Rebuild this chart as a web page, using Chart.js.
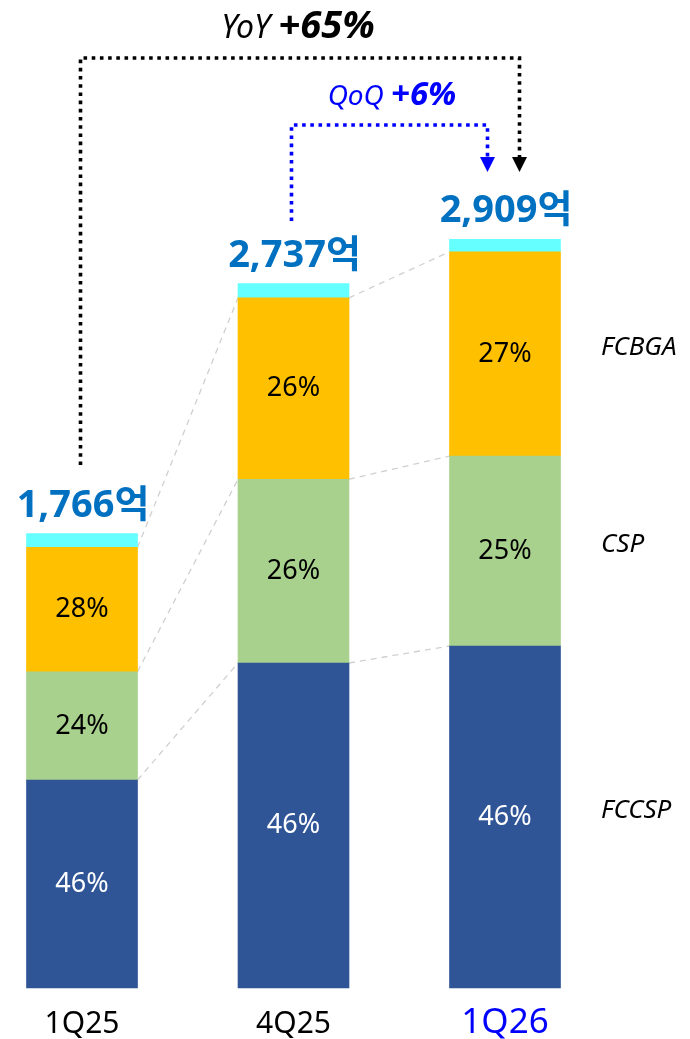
<!DOCTYPE html>
<html>
<head>
<meta charset="utf-8">
<script src="https://cdn.jsdelivr.net/npm/chart.js@4.4.1/dist/chart.umd.min.js"></script>
<style>
  html, body { margin: 0; padding: 0; background: #ffffff; }
  canvas { display: block; }
</style>
</head>
<body>
<canvas id="c" width="690" height="1039"></canvas>
<script>
// ---- data (unit: 억원) ----
const categories = ['1Q25', '4Q25', '1Q26'];
const fccsp = [808, 1263, 1329];
const csp = [421, 714, 738];
const fcbga = [483, 705, 794];
const other = [54, 55, 48];
const totals = ['1,766억', '2,737억', '2,909억'];
const pctFCCSP = ['46%', '46%', '46%'];
const pctCSP = ['24%', '26%', '25%'];
const pctFCBGA = ['28%', '26%', '27%'];
const seriesNames = ['FCCSP', 'CSP', 'FCBGA'];
const yoyText = ['YoY ', '+65%'];
const qoqText = ['QoQ ', '+6%'];

const LATIN = '"Noto Sans", "Noto Sans CJK KR", sans-serif';

const overlay = {
  id: 'overlay',
  beforeDatasetsDraw(chart) {
    const ctx = chart.ctx;
    const metas = [0, 1, 2].map(i => chart.getDatasetMeta(i));
    ctx.save();
    ctx.strokeStyle = '#D0D0D0';
    ctx.lineWidth = 1.3;
    ctx.setLineDash([6, 5]);
    for (let c = 0; c < categories.length - 1; c++) {
      metas.forEach(m => {
        const a = m.data[c], b = m.data[c + 1];
        ctx.beginPath();
        ctx.moveTo(a.x + a.width / 2, a.y);
        ctx.lineTo(b.x - b.width / 2, b.y);
        ctx.stroke();
      });
    }
    ctx.restore();
  },
  afterDatasetsDraw(chart) {
    const ctx = chart.ctx;
    const m0 = chart.getDatasetMeta(0), m1 = chart.getDatasetMeta(1),
          m2 = chart.getDatasetMeta(2), m3 = chart.getDatasetMeta(3);
    ctx.save();
    ctx.textAlign = 'center';
    ctx.textBaseline = 'middle';
    // segment percent labels
    const segs = [[m0, pctFCCSP, '#FFFFFF'], [m1, pctCSP, '#000000'], [m2, pctFCBGA, '#000000']];
    ctx.font = '27px ' + LATIN;
    segs.forEach(([m, labels, col]) => {
      m.data.forEach((el, i) => {
        ctx.fillStyle = col;
        ctx.fillText(labels[i], el.x, (el.y + el.base) / 2);
      });
    });
    // totals
    ctx.font = 'bold 38px ' + LATIN;
    ctx.fillStyle = '#0070C0';
    ctx.textBaseline = 'alphabetic';
    m3.data.forEach((el, i) => {
      ctx.fillText(totals[i], el.x + 1, el.y - 17);
    });
    // category labels
    const bottom = chart.chartArea.bottom;
    m0.data.forEach((el, i) => {
      const last = i === categories.length - 1;
      ctx.font = (last ? '35px ' : '30px ') + LATIN;
      ctx.fillStyle = last ? '#0000FF' : '#000000';
      ctx.fillText(categories[i], el.x, bottom + 45);
    });
    // side series labels (aligned with last bar segments)
    ctx.textAlign = 'left';
    ctx.textBaseline = 'middle';
    ctx.font = 'italic 26px ' + LATIN;
    ctx.fillStyle = '#000000';
    [m0, m1, m2].forEach((m, k) => {
      const el = m.data[m.data.length - 1];
      ctx.fillText(seriesNames[k], 601, (el.y + el.base) / 2 - 6);
    });

    // YoY / QoQ connectors
    const b0 = m0.data[0], b1 = m0.data[1], b2 = m0.data[2];
    function dotted(points, color) {
      ctx.save();
      ctx.strokeStyle = color;
      ctx.lineWidth = 3.6;
      ctx.setLineDash([3.6, 4.6]);
      ctx.lineCap = 'butt';
      ctx.beginPath();
      ctx.moveTo(points[0][0], points[0][1]);
      for (let i = 1; i < points.length; i++) ctx.lineTo(points[i][0], points[i][1]);
      ctx.stroke();
      ctx.restore();
    }
    function arrowHead(x, tipY, color) {
      ctx.fillStyle = color;
      ctx.beginPath();
      ctx.moveTo(x - 7.5, tipY - 15);
      ctx.lineTo(x + 7.5, tipY - 15);
      ctx.lineTo(x, tipY);
      ctx.closePath();
      ctx.fill();
    }
    const yoyX0 = b0.x - 1.5, yoyX1 = b2.x + 14.5;
    dotted([[yoyX0, 465], [yoyX0, 58], [yoyX1, 58], [yoyX1, 157]], '#000000');
    arrowHead(yoyX1, 172, '#000000');
    const qoqX0 = b1.x - 2, qoqX1 = b2.x - 17.5;
    dotted([[qoqX0, 221], [qoqX0, 125], [qoqX1, 125], [qoqX1, 157]], '#0000FF');
    arrowHead(qoqX1, 172, '#0000FF');

    // YoY / QoQ text
    function twoPart(parts, cx, baseY, size1, size2, color) {
      ctx.textAlign = 'left';
      ctx.textBaseline = 'alphabetic';
      ctx.fillStyle = color;
      const f1 = 'italic ' + size1 + 'px ' + LATIN;
      const f2 = 'italic bold ' + size2 + 'px ' + LATIN;
      ctx.font = f1; const w1 = ctx.measureText(parts[0]).width;
      ctx.font = f2; const w2 = ctx.measureText(parts[1]).width;
      let x = cx - (w1 + w2) / 2;
      ctx.font = f1; ctx.fillText(parts[0], x, baseY);
      ctx.font = f2; ctx.fillText(parts[1], x + w1, baseY);
    }
    twoPart(yoyText, 298, 38, 32, 38, '#000000');
    twoPart(qoqText, 392, 105, 28, 33, '#0000FF');
    ctx.restore();
  }
};

new Chart(document.getElementById('c'), {
  type: 'bar',
  data: {
    labels: categories,
    datasets: [
      { label: 'FCCSP', data: fccsp, backgroundColor: '#2F5597' },
      { label: 'CSP', data: csp, backgroundColor: '#A9D18E' },
      { label: 'FCBGA', data: fcbga, backgroundColor: '#FFC000' },
      { label: '기타', data: other, backgroundColor: '#66FFFF' }
    ]
  },
  options: {
    responsive: false,
    animation: false,
    devicePixelRatio: 1,
    layout: { padding: { top: 216, bottom: 51, left: 82, right: 185 } },
    datasets: { bar: { barThickness: 111, clip: false, borderWidth: 0 } },
    plugins: { legend: { display: false }, tooltip: { enabled: false } },
    scales: {
      x: { stacked: true, display: false, offset: false, grid: { display: false } },
      y: { stacked: true, display: false, min: 0, max: 3000, grid: { display: false } }
    }
  },
  plugins: [overlay]
});
</script>
</body>
</html>
